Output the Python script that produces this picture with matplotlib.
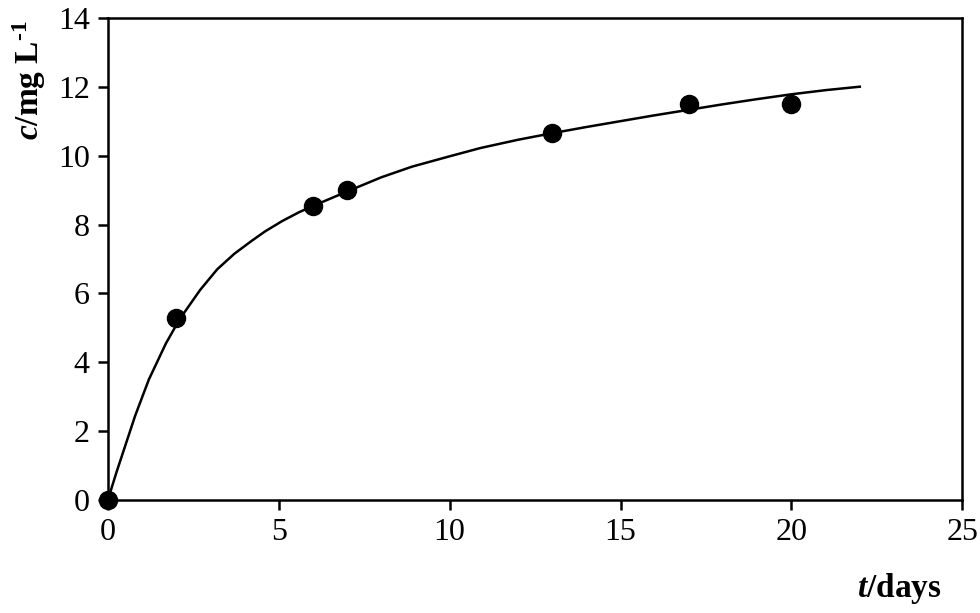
import matplotlib
matplotlib.use("Agg")
import matplotlib.pyplot as plt

plt.rcParams['font.family'] = 'Liberation Serif'
plt.rcParams['mathtext.fontset'] = 'custom'
plt.rcParams['mathtext.it'] = 'Liberation Serif:italic:bold'
plt.rcParams['mathtext.rm'] = 'Liberation Serif:bold'

# measured points
t_obs = [0, 2, 6, 7, 13, 17, 20]
c_obs = [0, 5.3, 8.55, 9.0, 10.65, 11.5, 11.5]

# fitted curve
t_fit = [0, 0.25, 0.5, 0.8, 1.2, 1.7, 2.1, 2.7, 3.2, 3.7, 4.2, 4.6, 5.1,
         5.6, 6.1, 7.1, 8.0, 8.9, 10.0, 10.9, 12, 13, 14, 15, 16, 17, 18,
         19, 20, 21, 22]
c_fit = [0, 0.8, 1.55, 2.45, 3.5, 4.55, 5.25, 6.1, 6.7, 7.15, 7.52, 7.8,
         8.1, 8.36, 8.58, 9.0, 9.37, 9.68, 9.98, 10.22, 10.46, 10.65, 10.83,
         11.0, 11.17, 11.33, 11.49, 11.64, 11.78, 11.9, 12.0]

fig = plt.figure(figsize=(9.8, 6.13), dpi=100)
ax = fig.add_axes([0.110, 0.184, 0.872, 0.787])

ax.plot(t_fit, c_fit, color='black', lw=1.8, zorder=2)
ax.plot(t_obs, c_obs, 'o', color='black', ms=13, zorder=3, clip_on=False)

ax.set_xlim(0, 25)
ax.set_ylim(0, 14)
ax.set_xticks(range(0, 26, 5))
ax.set_yticks(range(0, 15, 2))
ax.tick_params(direction='out', length=7, width=1.8, labelsize=23, pad=6)
for s in ax.spines.values():
    s.set_linewidth(1.8)

fig.text(0.918, 0.040, r'$t$/days', fontsize=24, fontweight='bold',
         ha='center', va='center')
fig.text(0.030, 0.87, r'$c$/mg L$^{\text{-}1}$', fontsize=24,
         fontweight='bold', rotation=90, ha='center', va='center')

fig.savefig('out.png', dpi=100)
